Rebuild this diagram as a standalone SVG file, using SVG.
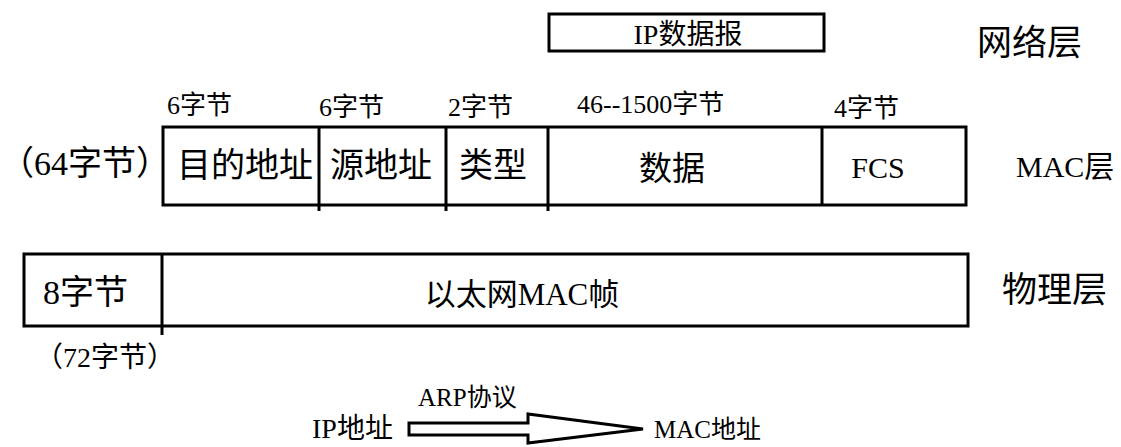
<svg xmlns="http://www.w3.org/2000/svg" width="1121" height="447" viewBox="0 0 1121 447">
  <style>
    text { font-family: "Liberation Serif", "Noto Sans CJK SC", serif; fill: #000; }
    .box { fill: #fff; stroke: #000; stroke-width: 3; }
    .div { stroke: #000; stroke-width: 3; fill: none; }
    .s26 { font-size: 26px; }
    .s28 { font-size: 28px; }
    .s34 { font-size: 34px; }
    .mid { text-anchor: middle; }
  </style>
  <rect width="1121" height="447" fill="#fff"/>

  <!-- network layer -->
  <g id="ip-datagram">
    <rect class="box" x="549" y="14" width="275" height="37"/>
    <text class="s28 mid" x="688" y="44">IP数据报</text>
  </g>
  <g id="label-network">
    <text class="s34" x="977" y="55" style="font-size:35px">网络层</text>
  </g>

  <!-- MAC layer frame -->
  <g id="mac-frame">
    <rect class="box" x="163" y="127" width="803" height="78"/>
    <path class="div" d="M319 127V211M446 127V211M548 127V211M822 127V205"/>
    <text class="s26" x="167" y="114">6字节</text>
    <text class="s26" x="319" y="116">6字节</text>
    <text class="s26" x="448" y="116">2字节</text>
    <text class="s26" x="577" y="113">46--1500字节</text>
    <text class="s26" x="834" y="117">4字节</text>
    <text class="s34 mid" x="245" y="177">目的地址</text>
    <text class="s34 mid" x="381" y="177">源地址</text>
    <text class="s34 mid" x="493" y="177">类型</text>
    <text class="s34 mid" x="672" y="180" style="font-size:33px">数据</text>
    <text class="mid" x="878" y="178" style="font-size:30px">FCS</text>
  </g>
  <g id="label-64">
    <text class="s34" x="0" y="175">（64字节）</text>
  </g>
  <g id="label-mac">
    <text x="1016" y="177" style="font-size:30px">MAC层</text>
  </g>

  <!-- physical layer frame -->
  <g id="phy-frame">
    <rect class="box" x="24" y="254" width="944" height="72"/>
    <path class="div" d="M162 254V335"/>
    <text class="s34" x="43" y="304">8字节</text>
    <text class="mid" x="522" y="305" style="font-size:31px">以太网MAC帧</text>
  </g>
  <g id="label-phy">
    <text class="s34" x="1002" y="302" style="font-size:35px">物理层</text>
  </g>
  <g id="label-72">
    <text class="s28" x="35" y="367">（72字节）</text>
  </g>

  <!-- address resolution -->
  <g id="ip-addr">
    <text class="s28" x="312" y="438">IP地址</text>
  </g>
  <g id="mac-addr">
    <text x="654" y="438" style="font-size:25px">MAC地址</text>
  </g>
  <g id="connectors">
    <polygon class="box" points="409,423 528,423 528,414 643,429 528,443 528,435 409,435"/>
    <text x="418" y="406" style="font-size:25px">ARP协议</text>
  </g>
</svg>
